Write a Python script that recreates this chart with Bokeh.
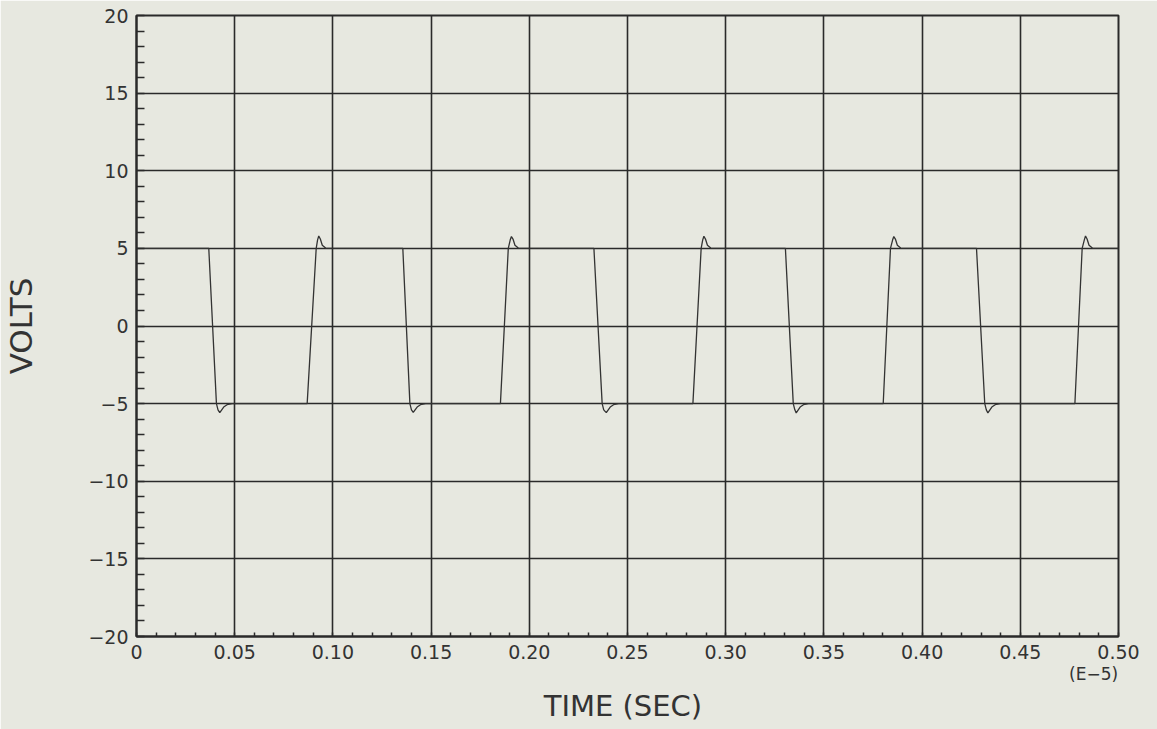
from bokeh.plotting import figure
from bokeh.models import FixedTicker, Range1d, LinearAxis
from bokeh.embed import file_html
from bokeh.resources import INLINE

# ---- data (time in units of 1E-5 s, volts) ----
fall_start = [0.0368, 0.1356, 0.2329, 0.3304, 0.4277]
fall_end = [0.0407, 0.1392, 0.2371, 0.3344, 0.4319]
under_t = [0.0424, 0.1409, 0.2392, 0.3359, 0.4335]
under_v = [-5.58, -5.56, -5.58, -5.60, -5.60]
rise_start = [0.0869, 0.1853, 0.2833, 0.3802, 0.4778]
rise_end = [0.0915, 0.1893, 0.2875, 0.3839, 0.4815]
over_t = [0.0928, 0.1909, 0.2889, 0.3856, 0.4832]
over_v = [5.80, 5.76, 5.78, 5.76, 5.80]
high_level = 5.0
low_level = -5.0
# ringing shapes (offset from extreme time, volts)
under_after_dt = [0.0020, 0.0037, 0.0063]
under_after_v = [-5.22, -5.07, -5.0]
over_before_dt = [-0.0006]
over_before_v = [5.55]
over_after_dt = [0.0008, 0.0018, 0.0035]
over_after_v = [5.60, 5.20, 5.02]

x_ticks = [0, 0.05, 0.1, 0.15, 0.2, 0.25, 0.3, 0.35, 0.4, 0.45, 0.5]
x_labels = ["0", "0.05", "0.10", "0.15", "0.20", "0.25", "0.30", "0.35", "0.40", "0.45", "0.50"]
y_ticks = [-20, -15, -10, -5, 0, 5, 10, 15, 20]
y_labels = ["\u221220", "\u221215", "\u221210", "\u22125", "0", "5", "10", "15", "20"]
exp_tick = [0.4873]
exp_label = ["(E\u22125)"]

# ---- build the trace ----
t = [0.0]
v = [high_level]
for i in range(len(fall_start)):
    t += [fall_start[i], fall_end[i], fall_end[i] + 0.0008, under_t[i]]
    v += [high_level, low_level, low_level - 0.4, under_v[i]]
    for dt, vv in zip(under_after_dt, under_after_v):
        t.append(under_t[i] + dt); v.append(vv)
    t += [rise_start[i], rise_end[i]]
    v += [low_level, high_level]
    for dt, vv in zip(over_before_dt, over_before_v):
        t.append(over_t[i] + dt); v.append(vv)
    t.append(over_t[i]); v.append(over_v[i])
    for dt, vv in zip(over_after_dt, over_after_v):
        t.append(over_t[i] + dt); v.append(vv)
t.append(0.5); v.append(high_level)

BG = "#e7e8e0"
INK = "#2a2a2a"
TXT = "#333333"
FONT = "DejaVu Sans"

p = figure(width=1157, height=729, title=None,
           x_range=Range1d(0, 0.5), y_range=Range1d(-20, 20),
           output_backend="svg", toolbar_location=None,
           min_border_left=136, min_border_right=39,
           min_border_top=15, min_border_bottom=93)
p.background_fill_color = BG
p.border_fill_color = BG
p.outline_line_color = INK
p.outline_line_width = 2

p.line(t, v, line_color="#333333", line_width=1.3)

xminor = [round(0.01 * k, 2) for k in range(51)]
yminor = list(range(-20, 21))
xax = p.below[0]
yax = p.left[0]
xax.ticker = FixedTicker(ticks=x_ticks, minor_ticks=xminor)
yax.ticker = FixedTicker(ticks=y_ticks, minor_ticks=yminor)
xax.major_label_overrides = dict(zip(x_ticks, x_labels))
yax.major_label_overrides = dict(zip(y_ticks, y_labels))

for ax in (xax, yax):
    ax.axis_line_color = INK
    ax.axis_line_width = 2
    ax.major_tick_in = 0
    ax.major_tick_out = 0
    ax.minor_tick_out = 0
    ax.minor_tick_line_color = INK
    ax.minor_tick_line_width = 1.5
    ax.major_label_text_font = FONT
    ax.major_label_text_font_size = "19px"
    ax.major_label_text_color = TXT
    ax.major_label_standoff = 8
xax.minor_tick_in = 4
yax.minor_tick_in = 8

yax.axis_label = "VOLTS"
yax.axis_label_text_font = FONT
yax.axis_label_text_font_size = "31px"
yax.axis_label_text_font_style = "normal"
yax.axis_label_text_color = TXT
yax.axis_label_standoff = 46

# second, label-only axis below: exponent marker and the axis title
ax2 = LinearAxis(ticker=FixedTicker(ticks=exp_tick, minor_ticks=[]),
                 major_label_overrides=dict(zip(exp_tick, exp_label)))
ax2.axis_line_color = None
ax2.major_tick_line_color = None
ax2.minor_tick_line_color = None
ax2.major_tick_in = 0
ax2.major_tick_out = 0
ax2.major_label_standoff = 2
ax2.major_label_text_font = FONT
ax2.major_label_text_font_size = "17px"
ax2.major_label_text_color = TXT
ax2.axis_label = "TIME  (SEC)"
ax2.axis_label_text_font = FONT
ax2.axis_label_text_font_size = "29px"
ax2.axis_label_text_font_style = "normal"
ax2.axis_label_text_color = TXT
ax2.axis_label_standoff = 2
p.add_layout(ax2, "below")

for g in (p.xgrid, p.ygrid):
    g.grid_line_color = INK
    g.grid_line_width = 1.6
    g.grid_line_alpha = 1.0

open("out.html", "w").write(file_html(p, INLINE))
